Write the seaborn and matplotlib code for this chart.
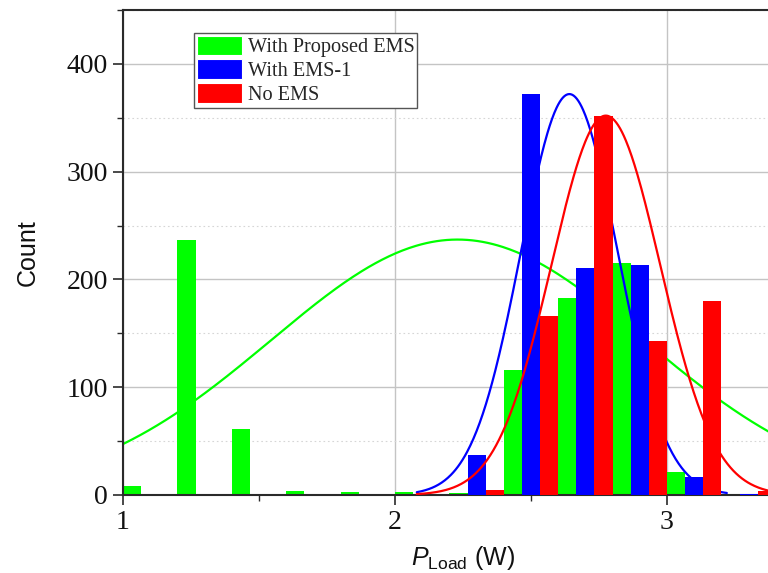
import numpy as np
import pandas as pd
import matplotlib
matplotlib.use("Agg")
import matplotlib.pyplot as plt
import seaborn as sns
from matplotlib.patches import Patch
from matplotlib.ticker import MultipleLocator

# ---- data -------------------------------------------------------------
series_names = ["With Proposed EMS", "With EMS-1", "No EMS"]
series_colors = ["#00ff00", "#0000ff", "#ff0000"]

bin_width = 0.2
bin_starts = [1.0, 1.2, 1.4, 1.6, 1.8, 2.0, 2.2, 2.4, 2.6, 2.8, 3.0, 3.2]
counts_proposed = [8, 237, 61, 4, 3, 3, 2, 116, 183, 215, 21, 0]
counts_ems1 = [0, 0, 0, 0, 0, 0, 37, 372, 211, 213, 17, 1]
counts_no_ems = [0, 0, 0, 0, 0, 0, 5, 166, 352, 143, 180, 4]

# normal-distribution fits (mean, standard deviation) and plotted span
fit_means = [2.23, 2.641, 2.775]
fit_stds = [0.685, 0.178, 0.20]
fit_spans = [(1.0, 3.5), (2.08, 3.22), (2.08, 3.5)]

x_ticks = [1, 2, 3]
y_ticks = [0, 100, 200, 300, 400]

# ---- style ------------------------------------------------------------
sns.set_theme(style="white")
plt.rcParams["font.family"] = ["Liberation Serif", "DejaVu Serif"]
plt.rcParams["mathtext.fontset"] = "custom"
plt.rcParams["mathtext.rm"] = "Liberation Sans"
plt.rcParams["mathtext.it"] = "Liberation Sans:italic"

fig = plt.figure(figsize=(7.68, 5.73), dpi=100)
ax = fig.add_axes([123 / 768, 78 / 573, 680 / 768, 485 / 573])

all_counts = [counts_proposed, counts_ems1, counts_no_ems]
rows = []
for name, counts in zip(series_names, all_counts):
    for start, c in zip(bin_starts, counts):
        rows.append({"load": start + bin_width / 2, "count": c, "series": name})
df = pd.DataFrame(rows)

edges = bin_starts + [bin_starts[-1] + bin_width]
palette = dict(zip(series_names, series_colors))

sns.histplot(
    data=df, x="load", weights="count", hue="series",
    hue_order=series_names, palette=palette, bins=edges,
    multiple="dodge", shrink=1, alpha=1, linewidth=0,
    legend=False, ax=ax,
)

# stack layers: each series' bars, then its fitted curve
layer = {c: 2 + i for i, c in enumerate(series_colors)}
for cont in ax.containers:
    fc = matplotlib.colors.to_hex(cont.patches[0].get_facecolor())
    for p in cont.patches:
        p.set_zorder(layer[fc])
        p.set_edgecolor("none")

for i, (name, counts) in enumerate(zip(series_names, all_counts)):
    lo, hi = fit_spans[i]
    xs = np.linspace(lo, hi, 400)
    peak = max(counts)
    ys = peak * np.exp(-0.5 * ((xs - fit_means[i]) / fit_stds[i]) ** 2)
    sns.lineplot(x=xs, y=ys, color=series_colors[i], linewidth=1.6,
                 ax=ax, zorder=2.5 + i)

# ---- axes -------------------------------------------------------------
ax.set_xlim(1, 3.5)
ax.set_ylim(0, 450)
ax.set_xticks(x_ticks)
ax.set_yticks(y_ticks)
ax.xaxis.set_minor_locator(MultipleLocator(0.5))
ax.yaxis.set_minor_locator(MultipleLocator(50))

ax.set_axisbelow(True)
ax.grid(True, which="major", color="#c4c4c4", linewidth=1.0, zorder=0)
ax.yaxis.grid(True, which="minor", color="#d6d6d6", linewidth=0.8,
              linestyle=(0, (1.5, 2.5)), zorder=0)
ax.xaxis.grid(False, which="minor")

for side in ["left", "bottom", "top", "right"]:
    ax.spines[side].set_color("#2a2a2a")
    ax.spines[side].set_linewidth(1.5)

ax.tick_params(axis="both", which="major", direction="out", length=7,
               width=1.2, color="#2a2a2a", labelsize=20, pad=4,
               left=True, bottom=True)
ax.tick_params(axis="both", which="minor", direction="out", length=4,
               width=1.0, color="#2a2a2a", left=True, bottom=True)
for lab in ax.get_xticklabels() + ax.get_yticklabels():
    lab.set_color("#111111")

ax.set_xlabel(r"$P_{\mathrm{Load}}$ (W)", fontsize=18,
              family="Liberation Sans", color="#111111", labelpad=6)
ax.set_ylabel("Count", fontsize=18, family="Liberation Sans",
              color="#111111", labelpad=19)

handles = [Patch(facecolor=c, edgecolor="white", linewidth=0.8)
           for c in series_colors]
leg = ax.legend(handles, series_names, loc="upper left",
                bbox_to_anchor=(0.104, 0.953), borderaxespad=0,
                fontsize=14.6, frameon=True, fancybox=False, framealpha=1,
                edgecolor="#555555", handlelength=2.25, handleheight=1.13,
                labelspacing=0.1, handletextpad=0.28, borderpad=0.14)
leg.get_frame().set_linewidth(1.0)
leg.set_zorder(10)

fig.savefig("out.png", dpi=100)
